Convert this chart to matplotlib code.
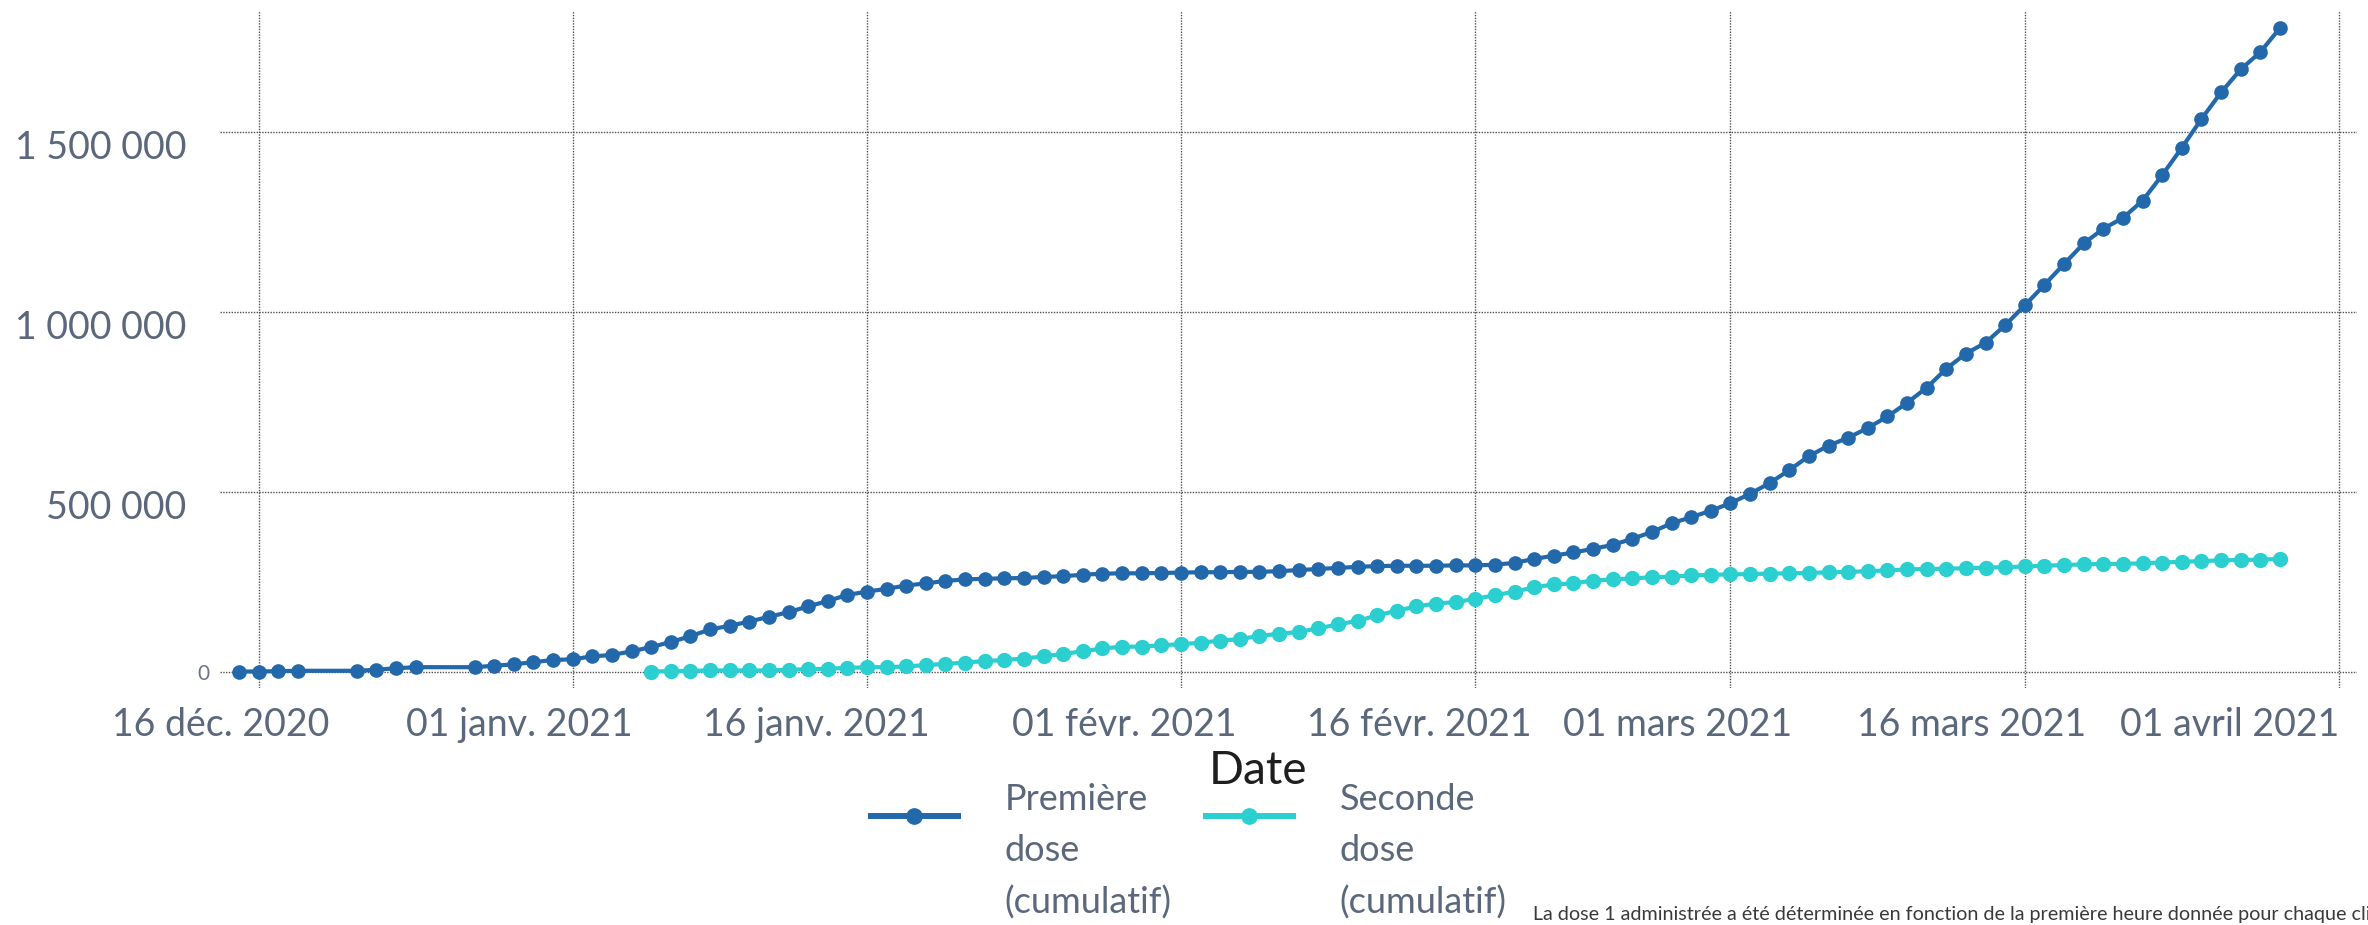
import matplotlib.pyplot as plt
import matplotlib.transforms as mtransforms
import pandas as pd

# Doses cumulées par jour (première dose : quelques jours manquants en décembre)
jours_dose1 = (list(pd.date_range("2020-12-15", "2020-12-18"))
               + list(pd.date_range("2020-12-21", "2020-12-24"))
               + list(pd.date_range("2020-12-27", "2021-03-29")))
dose1 = [0, 0, 1000, 2000, 2000, 5000, 9000, 12000, 12000, 16000, 20000, 26000, 32000,
         # janvier
         34000, 42000, 46000, 56000, 68000, 82000, 98000, 117000, 127000, 139000,
         152000, 165000, 181000, 196000, 213000, 222000, 230000, 239000, 245000, 252000,
         256000, 258000, 259000, 260000, 263000, 265000, 269000, 272000, 273000, 273000, 274000,
         # février
         275000, 276000, 276000, 277000, 277000, 279000, 282000, 285000, 288000, 291000,
         293000, 294000, 294000, 294000, 295000, 295000, 297000, 302000, 313000, 322000,
         331000, 341000, 352000, 369000, 388000, 412000, 429000, 447000,
         # mars
         468000, 494000, 524000, 560000, 599000, 628000, 650000, 677000, 709000, 747000,
         789000, 842000, 884000, 914000, 963000, 1018000, 1075000, 1133000, 1190000, 1231000,
         1261000, 1309000, 1380000, 1456000, 1536000, 1610000, 1674000, 1722000, 1789000]

jours_dose2 = list(pd.date_range("2021-01-05", "2021-03-29"))
dose2 = [0, 1000, 2000, 3000, 3000, 3000, 3000, 5000, 6000, 8000,
         10000, 12000, 12000, 14000, 18000, 21000, 25000, 29000, 32000, 36000,
         42000, 49000, 56000, 64000, 69000, 69000, 73000,
         # février
         76000, 80000, 86000, 90000, 99000, 105000, 110000, 120000, 131000, 141000,
         156000, 169000, 181000, 189000, 193000, 202000, 212000, 222000, 234000, 242000,
         245000, 253000, 256000, 259000, 262000, 264000, 267000, 269000,
         # mars
         270000, 271000, 272000, 273000, 274000, 276000, 277000, 279000, 281000, 284000,
         285000, 286000, 287000, 289000, 290000, 292000, 294000, 296000, 298000, 299000,
         299000, 301000, 303000, 305000, 307000, 309000, 310000, 311000, 313000]

dates_ticks = pd.to_datetime(["2020-12-16", "2021-01-01", "2021-01-16", "2021-02-01",
                              "2021-02-16", "2021-03-01", "2021-03-16", "2021-04-01"])
labels_ticks = ["16 déc. 2020", "01 janv. 2021", "16 janv. 2021", "01 févr. 2021",
                "16 févr. 2021", "01 mars 2021", "16 mars 2021", "01 avril 2021"]
valeurs_y = [0, 500000, 1000000, 1500000]
labels_y = ["0", "500 000", "1 000 000", "1 500 000"]

bleu = "#2268aa"
turquoise = "#2bcfcf"
gris_texte = "#5b687c"

plt.rcParams['font.family'] = ['Lato', 'DejaVu Sans']

fig = plt.figure(figsize=(23.68, 9.25), dpi=100)
ax = fig.add_axes([0.0929, 0.2562, 0.9024, 0.7319])

ax.plot(jours_dose1, dose1, color=bleu, lw=3.0, marker='o', ms=9.5,
        label="Première\ndose\n(cumulatif)", zorder=3)
ax.plot(jours_dose2, dose2, color=turquoise, lw=3.0, marker='o', ms=10,
        label="Seconde\ndose\n(cumulatif)", zorder=3)

debut = pd.Timestamp("2020-12-16")
ax.set_xlim(debut - pd.Timedelta(days=1.97), debut + pd.Timedelta(days=106.92))
ax.set_ylim(-45900, 1836300)

ax.set_xticks(dates_ticks)
ax.set_xticklabels(labels_ticks)
ax.set_yticks(valeurs_y)
ax.set_yticklabels(labels_y)

ax.tick_params(axis='both', length=0, labelsize=27, labelcolor=gris_texte)
ax.tick_params(axis='x', pad=14)
ax.tick_params(axis='y', pad=24)

for s in ax.spines.values():
    s.set_visible(False)
ax.grid(True, color='#505050', linestyle=(0, (1, 1)), linewidth=1.0)
ax.set_axisbelow(True)

# décalage des étiquettes de dates vers la gauche
decalages_x = [-38, -53, -51, -57, -56, -53, -53, -109]
for lab, dx in zip(ax.get_xticklabels(), decalages_x):
    lab.set_transform(lab.get_transform()
                      + mtransforms.ScaledTranslation(dx / 100, 0, fig.dpi_scale_trans))

# les grandes étiquettes y sont un peu sous leur ligne, le "0" est petit et collé à l'axe
for i, lab in enumerate(ax.get_yticklabels()):
    if i == 0:
        lab.set_fontsize(15)
        lab.set_color('#6b7488')
        dx, dy = 23, 0
    else:
        dx, dy = 0, -13
    lab.set_transform(lab.get_transform()
                      + mtransforms.ScaledTranslation(dx / 100, dy / 100, fig.dpi_scale_trans))

ax.set_xlabel("Date", fontsize=33, color='#1e1e1e')
ax.xaxis.set_label_coords(0.4857, -0.1227)
ax.xaxis.label.set_va('center')

leg = fig.legend(loc='upper left', bbox_to_anchor=(0.3678, 0.153), ncol=2, frameon=False,
                 fontsize=26, labelcolor=gris_texte, handlelength=2.4, handleheight=4.3,
                 handletextpad=1.3, columnspacing=0.95, borderpad=0, borderaxespad=0)
for t in leg.get_texts():
    t.set_linespacing(1.66)
for line in leg.get_lines():
    line.set_linewidth(4.3)
    line.set_markersize(11)
for pack in leg._legend_handle_box.get_children():
    for p in pack.get_children():
        p.align = 'top'

fig.text(1533 / 2368, 1 - 920 / 925,
         "La dose 1 administrée a été déterminée en fonction de la première heure donnée pour chaque cli",
         fontsize=14.2, color='#3a3a3a', va='baseline', ha='left')

fig.savefig("out.png", dpi=100, facecolor='white')
